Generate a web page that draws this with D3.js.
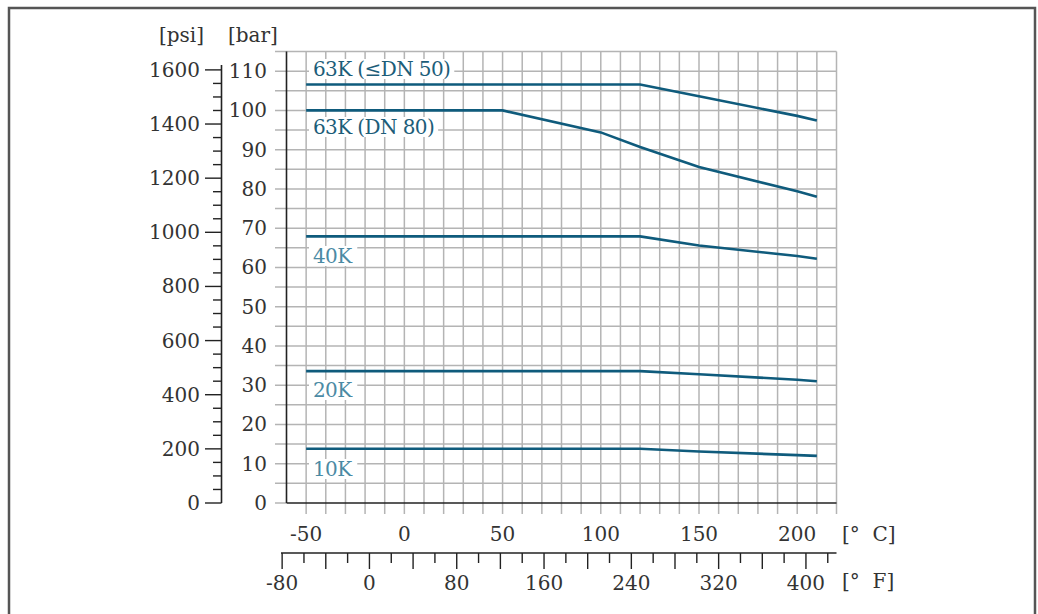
<!DOCTYPE html>
<html><head><meta charset="utf-8">
<script src="https://cdn.jsdelivr.net/npm/d3@7"></script>
<style>
body{margin:0;background:#fff;}
text{font-family:"DejaVu Serif",serif;}
</style></head>
<body><svg id="c" width="1038" height="614"></svg>
<script>
// Data (temperature °C, pressure bar)
const temps63a = [-50, 120, 150, 200, 210];
const bar63a   = [106.6, 106.6, 103.6, 98.6, 97.4];
const temps63b = [-50, 50, 100, 120, 150, 200, 210];
const bar63b   = [100, 100, 94.4, 90.7, 85.6, 79.4, 78.0];
const temps40  = [-50, 120, 150, 200, 210];
const bar40    = [67.9, 67.9, 65.6, 62.9, 62.2];
const temps20  = [-50, 120, 150, 200, 210];
const bar20    = [33.6, 33.6, 32.8, 31.4, 31.0];
const temps10  = [-50, 120, 150, 200, 210];
const bar10    = [13.8, 13.8, 13.1, 12.2, 12.0];
const seriesNames = ["63K (\u2264DN 50)", "63K (DN 80)", "40K", "20K", "10K"];
const cTicks = [-50, 0, 50, 100, 150, 200];
const fTicks = [-80, 0, 80, 160, 240, 320, 400];
const barTicks = [0,10,20,30,40,50,60,70,80,90,100,110];
const psiTicks = [0,200,400,600,800,1000,1200,1400,1600];

const svg = d3.select("#c");
const x = d3.scaleLinear().domain([-60, 220]).range([286.5, 836.5]);
const y = d3.scaleLinear().domain([0, 115]).range([503, 51.5]);
const psiToBar = 1/14.5038;
const yPsi = d3.scaleLinear().domain([0, 115/psiToBar]).range([503, 51.5]);
const xF = d3.scaleLinear().domain([(-60)*9/5+32, 220*9/5+32]).range([286.5, 836.5]);

// frame
svg.append("path").attr("d","M9,614 V8 H1035 V614").attr("fill","none").attr("stroke","#555").attr("stroke-width",2.5);

const grid = svg.append("g");
// vertical grid lines every 10°C
d3.range(-50, 221, 10).forEach(t=>{
  grid.append("line").attr("x1",x(t)).attr("x2",x(t)).attr("y1",y(115)).attr("y2",514)
    .attr("stroke","#b4b4b4").attr("stroke-width",1.5);
});
// horizontal grid lines every 5 bar
d3.range(5, 116, 5).forEach(b=>{
  grid.append("line").attr("x1",275).attr("x2",x(220)).attr("y1",y(b)).attr("y2",y(b))
    .attr("stroke","#b4b4b4").attr("stroke-width",1.5);
});
grid.append("line").attr("x1",275).attr("x2",286).attr("y1",y(0)).attr("y2",y(0)).attr("stroke","#b4b4b4").attr("stroke-width",1.5);

// axes lines
svg.append("line").attr("x1",x(-60)).attr("x2",x(-60)).attr("y1",y(115)).attr("y2",y(0)).attr("stroke","#222").attr("stroke-width",1.6);
svg.append("line").attr("x1",x(-60)).attr("x2",x(220)).attr("y1",y(0)).attr("y2",y(0)).attr("stroke","#222").attr("stroke-width",1.6);

const tc = "#333";
// bar labels
barTicks.forEach(b=>{
  svg.append("text").attr("x",267).attr("y",y(b)+7).attr("text-anchor","end").attr("font-size",20).attr("fill",tc).text(b);
});
svg.append("text").attr("x",228).attr("y",42).attr("font-size",20).attr("fill",tc).text("[bar]");
svg.append("text").attr("x",159).attr("y",42).attr("font-size",20).attr("fill",tc).text("[psi]");

// psi axis
const px = 221.5;
svg.append("line").attr("x1",px).attr("x2",px).attr("y1",65).attr("y2",503).attr("stroke","#222").attr("stroke-width",1.6);
d3.range(0, 1651, 50).forEach(p=>{
  if (yPsi(p) < 64) return;
  const major = p % 200 === 0;
  svg.append("line").attr("x1",major?205:213).attr("x2",px).attr("y1",yPsi(p)).attr("y2",yPsi(p)).attr("stroke","#222").attr("stroke-width",1.4);
});
psiTicks.forEach(p=>{
  svg.append("text").attr("x",200).attr("y",yPsi(p)+7).attr("text-anchor","end").attr("font-size",20).attr("fill",tc).text(p);
});

// C labels
cTicks.forEach(t=>{
  svg.append("text").attr("x",x(t)).attr("y",541).attr("text-anchor","middle").attr("font-size",20).attr("fill",tc).text(t);
});
svg.append("text").attr("x",842).attr("y",541).attr("font-size",20).attr("fill",tc).attr("xml:space","preserve").text("[\u00B0  C]");

// F axis
const fy = 553;
svg.append("line").attr("x1",281).attr("x2",x(220)).attr("y1",fy).attr("y2",fy).attr("stroke","#222").attr("stroke-width",1.6);
d3.range(-80, 421, 20).forEach(f=>{
  const major = f % 40 === 0;
  svg.append("line").attr("x1",xF(f)).attr("x2",xF(f)).attr("y1",fy).attr("y2",fy+(major?16:10)).attr("stroke","#222").attr("stroke-width",1.4);
});
fTicks.forEach(f=>{
  svg.append("text").attr("x",xF(f)).attr("y",590).attr("text-anchor","middle").attr("font-size",20).attr("fill",tc).text(f);
});
svg.append("text").attr("x",842).attr("y",588).attr("font-size",20).attr("fill",tc).attr("xml:space","preserve").text("[\u00B0  F]");

// series
const all = [[temps63a,bar63a],[temps63b,bar63b],[temps40,bar40],[temps20,bar20],[temps10,bar10]];
const line = d3.line().x(d=>x(d[0])).y(d=>y(d[1]));
all.forEach(([t,b])=>{
  svg.append("path").attr("d", line(t.map((v,i)=>[v,b[i]]))).attr("fill","none")
    .attr("stroke","#0f5b7c").attr("stroke-width",2.6);
});

// labels with white background
const labs = [
  {name:seriesNames[0], yy:76, c:"#1c5d79"},
  {name:seriesNames[1], yy:134, c:"#1c5d79"},
  {name:seriesNames[2], yy:263, c:"#4b8aa4"},
  {name:seriesNames[3], yy:397, c:"#4b8aa4"},
  {name:seriesNames[4], yy:476, c:"#4b8aa4"}
];
labs.forEach(l=>{
  const g = svg.append("g");
  const rect = g.append("rect").attr("fill","#fff");
  const t = g.append("text").attr("x",313).attr("y",l.yy).attr("font-size",20).attr("fill",l.c).attr("letter-spacing",-0.6).text(l.name);
  const bb = t.node().getBBox();
  rect.attr("x",bb.x-4).attr("y",bb.y+2).attr("width",bb.width+8).attr("height",bb.height-4);
});
</script></body></html>
